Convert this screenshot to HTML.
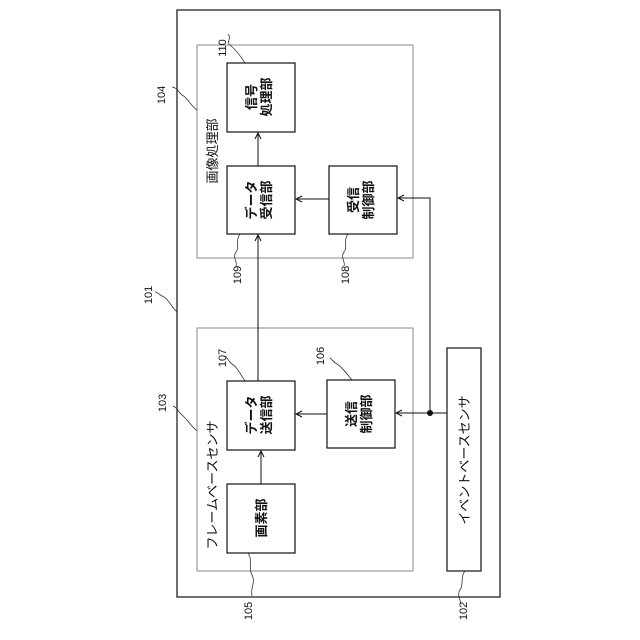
<!DOCTYPE html>
<html><head><meta charset="utf-8"><style>html,body{margin:0;padding:0;background:#fff}svg{display:block}text{font-family:"Liberation Sans","Noto Sans CJK JP",sans-serif;fill:#111}</style></head><body>
<svg width="640" height="640" viewBox="0 0 640 640" xmlns="http://www.w3.org/2000/svg">
<defs><marker id="a" markerWidth="8" markerHeight="8" refX="7" refY="4" orient="auto" markerUnits="userSpaceOnUse"><path d="M1,1 L7,4 L1,7" fill="none" stroke="#111" stroke-width="1"/></marker></defs>
<g fill="none">
<rect x="177" y="10" width="323" height="587" stroke="#222" stroke-width="1.3"/>
<rect x="197" y="45" width="216" height="213" stroke="#888"/>
<rect x="197" y="328" width="216" height="243" stroke="#888"/>
<g stroke="#111" stroke-width="1.2">
<rect x="227" y="63" width="68" height="69"/>
<rect x="227" y="166" width="68" height="68"/>
<rect x="329" y="166" width="68" height="68"/>
<rect x="227" y="381" width="68" height="69"/>
<rect x="327" y="380" width="68" height="68"/>
<rect x="227" y="484" width="68" height="69"/>
<rect x="447" y="348" width="34" height="223"/>
</g>
<g stroke="#111" stroke-width="1">
<line x1="258" y1="381" x2="258" y2="235" marker-end="url(#a)"/>
<line x1="258" y1="166" x2="258" y2="133" marker-end="url(#a)"/>
<line x1="329" y1="199" x2="296" y2="199" marker-end="url(#a)"/>
<polyline points="430,413 430,198 398,198" marker-end="url(#a)"/>
<line x1="447" y1="413" x2="396" y2="413" marker-end="url(#a)"/>
<line x1="327" y1="414" x2="296" y2="414" marker-end="url(#a)"/>
<line x1="261" y1="484" x2="261" y2="451" marker-end="url(#a)"/>
</g>
<circle cx="430" cy="413" r="3" fill="#111"/>
<g stroke="#333" stroke-width="0.8">
<path d="M245,63 C240,55 236,50 230,45 C226,42 232,38 228,34"/>
<path d="M197,110 C190,105 188,98 182,95 C178,92 178,88 172,87"/>
<path d="M177,312 C170,305 168,298 162,296 C158,294 158,292 155,292"/>
<path d="M240,234 C235,240 240,248 236,252 C232,258 238,262 236,266"/>
<path d="M348,234 C343,240 348,248 344,252 C340,258 346,262 344,266"/>
<path d="M197,431 C190,425 188,420 182,415 C178,412 178,408 173,406"/>
<path d="M245,381 C240,374 238,368 232,364 C228,361 228,358 225,356"/>
<path d="M352,380 C347,374 343,368 337,364 C333,362 333,360 330,358"/>
<path d="M248,553 C253,560 248,568 252,575 C256,582 250,588 252,596"/>
<path d="M465,571 C460,577 464,585 460,590 C456,596 462,600 460,604"/>
</g>
</g>
<g font-size="11">
<text transform="translate(226,48) rotate(-90)" text-anchor="middle">110</text>
<text transform="translate(165,95) rotate(-90)" text-anchor="middle">104</text>
<text transform="translate(152,295) rotate(-90)" text-anchor="middle">101</text>
<text transform="translate(241,275) rotate(-90)" text-anchor="middle">109</text>
<text transform="translate(349,275) rotate(-90)" text-anchor="middle">108</text>
<text transform="translate(166,403) rotate(-90)" text-anchor="middle">103</text>
<text transform="translate(226,358) rotate(-90)" text-anchor="middle">107</text>
<text transform="translate(324,356) rotate(-90)" text-anchor="middle">106</text>
<text transform="translate(252,611) rotate(-90)" text-anchor="middle">105</text>
<text transform="translate(467,611) rotate(-90)" text-anchor="middle">102</text>
</g>
<g font-size="13">
<text transform="translate(217,151) rotate(-90)" text-anchor="middle">画像処理部</text>
<text transform="translate(217,485) rotate(-90)" text-anchor="middle">フレームベースセンサ</text>
<text transform="translate(469,460) rotate(-90)" text-anchor="middle">イベントベースセンサ</text>
</g>
<g font-size="13" font-weight="bold" text-anchor="middle">
<text transform="translate(258,97) rotate(-90)"><tspan x="0" y="-2">信号</tspan><tspan x="0" y="13">処理部</tspan></text>
<text transform="translate(258,200) rotate(-90)"><tspan x="0" y="-2">データ</tspan><tspan x="0" y="13">受信部</tspan></text>
<text transform="translate(360,200) rotate(-90)"><tspan x="0" y="-2">受信</tspan><tspan x="0" y="13">制御部</tspan></text>
<text transform="translate(258,415) rotate(-90)"><tspan x="0" y="-2">データ</tspan><tspan x="0" y="13">送信部</tspan></text>
<text transform="translate(358,414) rotate(-90)"><tspan x="0" y="-2">送信</tspan><tspan x="0" y="13">制御部</tspan></text>
<text transform="translate(266,518) rotate(-90)">画素部</text>
</g>
</svg>
</body></html>
